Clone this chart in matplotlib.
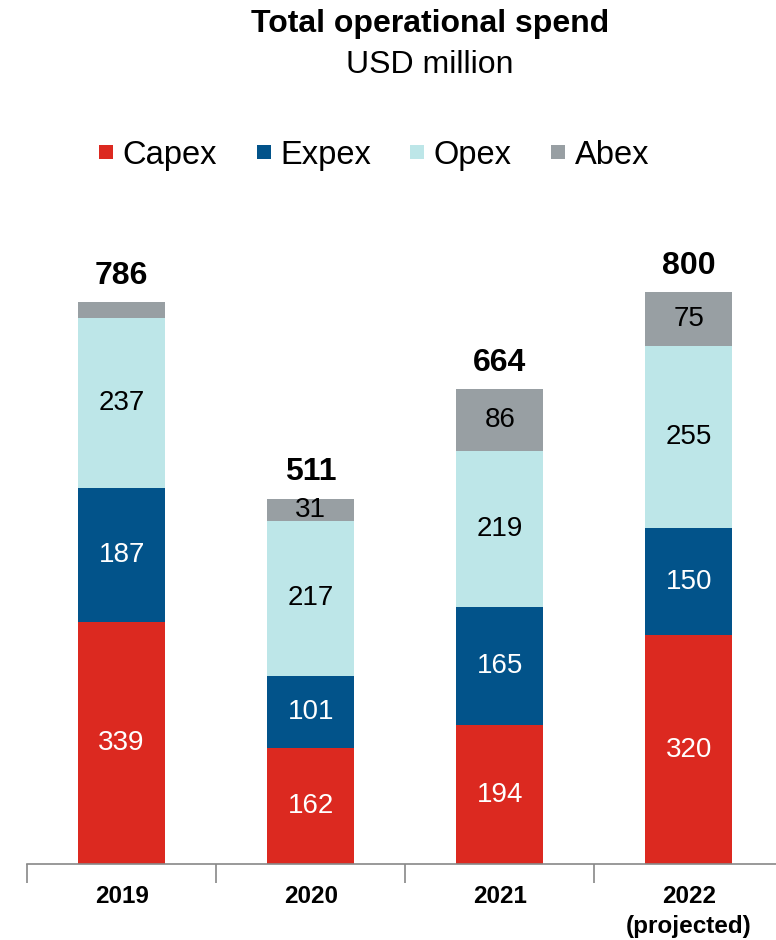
import matplotlib.pyplot as plt
import numpy as np
from matplotlib.lines import Line2D

plt.rcParams['font.family'] = ['Liberation Sans', 'DejaVu Sans']

years = ['2019', '2020', '2021', '2022\n(projected)']
capex = [339, 162, 194, 320]
expex = [187, 101, 165, 150]
opex = [237, 217, 219, 255]
abex = [23, 31, 86, 75]
totals = [786, 511, 664, 800]

series = [('Capex', capex, '#DC2920', 'white'),
          ('Expex', expex, '#02538A', 'white'),
          ('Opex', opex, '#BDE6E8', 'black'),
          ('Abex', abex, '#989FA3', 'black')]

fig = plt.figure(figsize=(7.76, 9.4), dpi=100)
ax = fig.add_axes([0.0348, 0.0809, 0.9652, 0.6845])

x = np.arange(len(years))
bottom = np.zeros(len(years))
for name, vals, color, tcol in series:
    ax.bar(x, vals, width=0.46, bottom=bottom, color=color, label=name)
    for xi, b, v in zip(x, bottom, vals):
        if v >= 30:
            ax.text(xi, b + v / 2, str(v), ha='center', va='center',
                    fontsize=20, color=tcol)
    bottom += vals

for xi, t in zip(x, totals):
    ax.text(xi, t + 16, str(t), ha='center', va='bottom', fontsize=23,
            fontweight='bold')

ax.set_xlim(-0.5, 3.46)
ax.set_ylim(0, 900)
ax.set_xticks([-0.5, 0.5, 1.5, 2.5])
ax.set_xticklabels([])
ax.set_xticks(x, minor=True)
ax.set_xticklabels(years, minor=True, fontsize=17.5, fontweight='bold',
                   linespacing=1.4)
ax.tick_params(axis='x', which='major', length=14, color='#888888', width=1.2)
ax.tick_params(axis='x', which='minor', length=0, pad=15)
ax.set_yticks([])
for s in ['top', 'right', 'left']:
    ax.spines[s].set_visible(False)
ax.spines['bottom'].set_color('#888888')
ax.spines['bottom'].set_linewidth(1.2)

fig.text(0.554, 0.974, 'Total operational spend', ha='center', va='center',
         fontsize=23, fontweight='bold')
fig.text(0.554, 0.931, 'USD million', ha='center', va='center', fontsize=23)

handles = [Line2D([], [], marker='s', linestyle='none', markersize=10.5,
                  markerfacecolor=c, markeredgewidth=0) for _, _, c, _ in series]
fig.legend(handles, [n for n, _, _, _ in series], loc='center',
           bbox_to_anchor=(0.482, 0.835), ncol=4, frameon=False, fontsize=23.5,
           handlelength=0.45, handletextpad=0.28, columnspacing=1.2)

plt.savefig('out.png', dpi=100)
